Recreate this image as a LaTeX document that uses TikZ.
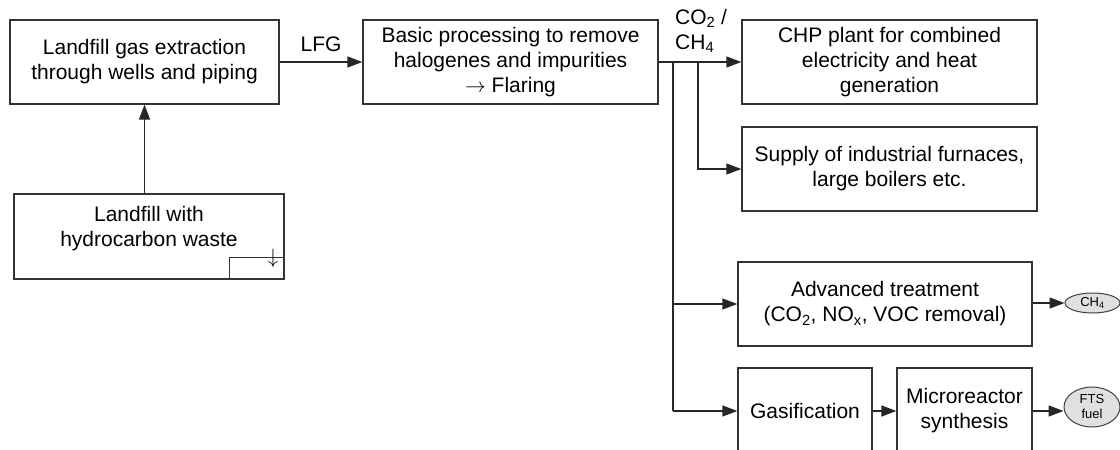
\documentclass[tikz,border=0pt]{standalone}
\usepackage{fontspec}
\setmainfont{Liberation Sans}
\usetikzlibrary{arrows.meta,shapes.geometric}
\begin{document}
\begin{tikzpicture}[x=1pt,y=-1pt,
  stage/.style={draw=black!80, line width=1.3pt, inner sep=0pt, align=center,
    font=\fontsize{21}{25}\selectfont},
  product/.style={ellipse, draw=black!75, line width=1pt, fill=black!12, inner sep=0pt,
    align=center, font=\fontsize{13}{15}\selectfont},
  flow/.style={draw=black!85, line width=1.3pt, -{Triangle[length=15pt,width=11pt]}},
  pipe/.style={draw=black!85, line width=1.3pt},
  tag/.style={inner sep=0pt, font=\fontsize{21}{25}\selectfont}
]
\fill[white] (0,0) rectangle (1120,450);
\useasboundingbox (0,0) rectangle (1120,450);
\clip (0,0) rectangle (1120,450);

% upper chain
\node[stage, minimum width=269pt, minimum height=84pt] (ext) at (144.5,62)
  {Landfill gas extraction\\through wells and piping};
\node[stage, minimum width=295pt, minimum height=84pt] (proc) at (510.5,62)
  {Basic processing to remove\\halogenes and impurities\\$\rightarrow$ Flaring};
\node[stage, minimum width=295pt, minimum height=84pt] (chp) at (889.5,62)
  {CHP plant for combined\\electricity and heat\\generation};
\node[stage, minimum width=295pt, minimum height=84pt] (supply) at (889.5,169)
  {Supply of industrial furnaces,\\large boilers etc.};

% landfill source
\node[draw=black!80, line width=1.3pt, minimum width=270pt, minimum height=85pt, inner sep=0pt]
  (landfill) at (149,236.5) {};
\node[tag, align=center] (landfilltext) at (149,228.5) {Landfill with\\hydrocarbon waste};
\node[draw=black!80, line width=1.1pt, minimum width=55pt, minimum height=22pt, inner sep=0pt,
  anchor=south east] (outlet) at (landfill.south east) {};
\node[tag] (outletarrow) at (273,258) {$\downarrow$};

% lower branches
\node[stage, minimum width=294pt, minimum height=84pt] (adv) at (885,304)
  {Advanced treatment\\(CO\textsubscript{2}, NO\textsubscript{x}, VOC removal)};
\node[stage, minimum width=134pt, minimum height=86pt] (gas) at (805,411) {Gasification};
\node[stage, minimum width=135pt, minimum height=86pt] (micro) at (964.5,411)
  {Microreactor\\synthesis};

\node[product, minimum width=55pt, minimum height=20pt] (ch4) at (1092.5,303)
  {CH\textsubscript{4}};
\node[product, minimum width=56pt, minimum height=40pt] (fts) at (1092,407)
  {FTS\\fuel};

% connectors
\draw[flow] (landfill.north -| ext.south) -- (ext.south);
\draw[flow] (ext.east) -- node[tag, above=10pt] (lfg) {LFG} (proc.east -| proc.west);
\draw[flow] (proc.east) -- (chp.west);
\node[tag, align=left, anchor=north west, font=\fontsize{21}{25}\selectfont] (gaslabel) at (675,9)
  {CO\textsubscript{2} /\\CH\textsubscript{4}};

\coordinate (splitA) at (698,62);
\coordinate (splitB) at (673,62);
\draw[flow] (splitA) |- (supply.west);
\draw[pipe] (splitB) -- (splitB |- gas.west);
\draw[flow] (splitB |- adv.west) -- (adv.west);
\draw[flow] (splitB |- gas.west) -- (gas.west);
\draw[flow] (gas.east) -- (micro.west);

\coordinate (ch4in) at (ch4.west);
\draw[flow] (adv.east |- ch4in) -- (ch4in);
\draw[flow] (micro.east) -- (micro.east -| fts.west);
\end{tikzpicture}
\end{document}
